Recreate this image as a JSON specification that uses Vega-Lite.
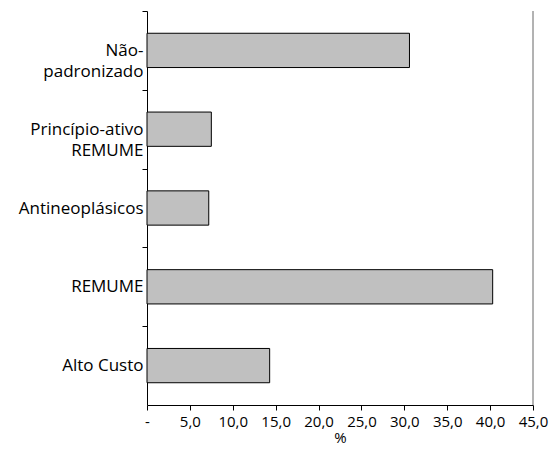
{
  "$schema": "https://vega.github.io/schema/vega-lite/v6.json",
  "autosize": "none",
  "width": 386,
  "height": 394,
  "padding": {"left": 147, "top": 11, "right": 19, "bottom": 45},
  "background": "white",
  "config": {
    "view": {"stroke": null},
    "font": "Open Sans",
    "axis": {"grid": false, "domainColor": "black", "tickColor": "black", "labelColor": "black", "titleColor": "black", "labelFont": "Open Sans", "titleFont": "Open Sans", "titleFontWeight": "normal"}
  },
  "data": {
    "values": [
      {"categoria": "Não-|padronizado", "pct": 30.6},
      {"categoria": "Princípio-ativo|REMUME", "pct": 7.5},
      {"categoria": "Antineoplásicos", "pct": 7.2},
      {"categoria": "REMUME", "pct": 40.3},
      {"categoria": "Alto Custo", "pct": 14.3}
    ]
  },
  "layer": [
    {
      "mark": {"type": "bar", "fill": "#c0c0c0", "stroke": "black", "strokeWidth": 1},
      "encoding": {
        "y": {
          "field": "categoria", "type": "nominal", "sort": null,
          "scale": {"paddingInner": 0.565, "paddingOuter": 0.2825},
          "axis": {"title": null, "tickSize": 5, "tickOffset": -39.4, "labelOffset": 39.4, "labelPadding": -1, "labelFontSize": 17, "labelLimit": 200, "labelLineHeight": 21, "labelExpr": "split(datum.label, '|')"}
        },
        "x": {
          "field": "pct", "type": "quantitative",
          "scale": {"domain": [0, 45], "nice": false},
          "axis": {"title": "%", "values": [0,5,10,15,20,25,30,35,40,45], "tickSize": 5, "labelFontSize": 15, "titleFontSize": 15, "labelPadding": 4, "titlePadding": 1, "labelFlush": false, "labelOverlap": false, "labelExpr": "datum.value == 0 ? '-     ' : replace(format(datum.value, '.1f'), '.', ',')"}
        }
      }
    },
    {
      "mark": {"type": "rule", "color": "#b0b0b0", "strokeWidth": 1},
      "encoding": {"x": {"datum": 45}}
    }
  ]
}
